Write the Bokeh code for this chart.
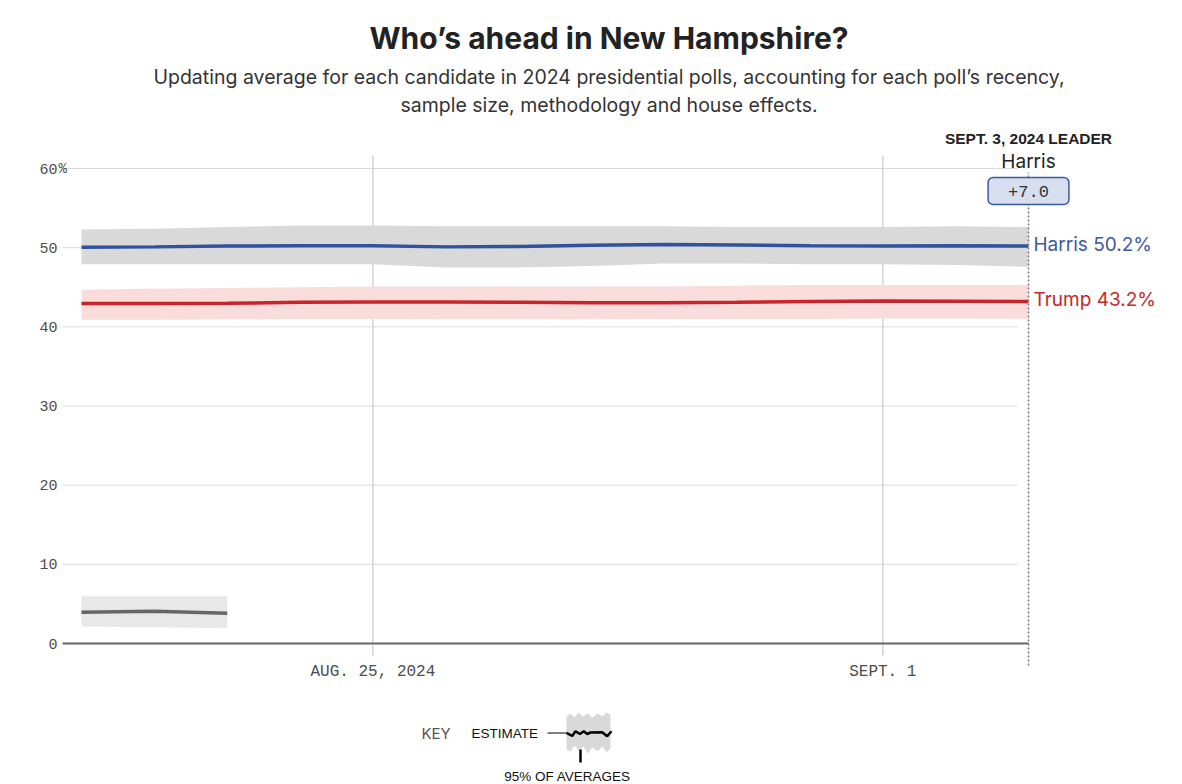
import datetime as dt
from bokeh.plotting import figure
from bokeh.models import FixedTicker, Label
from bokeh.embed import file_html
from bokeh.resources import INLINE

# ---------------- data ----------------
dates = [dt.datetime(2024, 8, 21) + dt.timedelta(days=i) for i in range(14)]
harris = [50.05, 50.1, 50.2, 50.25, 50.25, 50.1, 50.15, 50.3, 50.4, 50.35, 50.25, 50.2, 50.25, 50.2]
harris_hi = [52.3, 52.4, 52.6, 52.8, 52.8, 52.7, 52.7, 52.7, 52.7, 52.6, 52.6, 52.6, 52.7, 52.6]
harris_lo = [47.9, 47.9, 47.9, 47.9, 47.9, 47.5, 47.5, 47.7, 48.0, 48.0, 47.9, 47.9, 47.8, 47.6]
trump = [42.95, 42.95, 42.97, 43.1, 43.15, 43.15, 43.1, 43.05, 43.05, 43.1, 43.2, 43.25, 43.22, 43.2]
trump_hi = [44.7, 44.8, 44.9, 45.0, 45.1, 45.1, 45.1, 45.1, 45.1, 45.2, 45.3, 45.3, 45.3, 45.3]
trump_lo = [40.9, 40.9, 40.95, 41.0, 41.0, 40.95, 40.95, 40.95, 41.0, 41.0, 41.0, 41.05, 41.05, 41.0]
other_dates = dates[:3]
other = [3.95, 4.08, 3.83]
other_hi = [5.97, 5.97, 5.97]
other_lo = [2.15, 2.05, 1.93]

y_ticks = [0, 10, 20, 30, 40, 50, 60]
x_tick_dates = [dt.datetime(2024, 8, 25), dt.datetime(2024, 9, 1)]
x_tick_labels = ["AUG. 25, 2024", "SEPT. 1"]

title = "Who\u2019s ahead in New Hampshire?"
subtitle = ["Updating average for each candidate in 2024 presidential polls, accounting for each poll\u2019s recency,",
            "sample size, methodology and house effects."]
leader_date_label = "SEPT. 3, 2024 LEADER"
leader_name = "Harris"

# ---------------- layout helpers ----------------
EPOCH = dt.datetime(1970, 1, 1)
DAY = 86400000.0


def ms(d):
    return (d - EPOCH).total_seconds() * 1000.0


d0 = ms(dates[0])
PX_PER_DAY = (1028 - 81) / 13.0
PX_PER_UNIT = (643 - 168) / 60.0


def xd(px):  # canvas x pixel -> data x
    return d0 + (px - 81) / PX_PER_DAY * DAY


def yd(py):  # canvas y pixel -> data y
    return (643 - py) / PX_PER_UNIT


xs = [ms(d) for d in dates]
oxs = [ms(d) for d in other_dates]

W, H = 1182, 784
p = figure(width=W, height=H, x_axis_type="datetime",
           x_range=(xd(0), xd(W)), y_range=(yd(H), yd(0)),
           output_backend="svg", toolbar_location=None,
           min_border_left=0, min_border_right=0,
           min_border_top=0, min_border_bottom=0)
p.outline_line_color = None
p.background_fill_color = "white"
p.border_fill_color = "white"

MONO = "Liberation Mono"
SANS = "Inter"

# axes
p.xgrid.visible = False
p.ygrid.visible = False

p.yaxis.ticker = FixedTicker(ticks=y_ticks)
p.yaxis.fixed_location = xd(62)
p.yaxis.axis_line_color = None
p.yaxis.major_tick_line_color = None
p.yaxis.major_tick_out = 0
p.yaxis.major_tick_in = 0
p.yaxis.minor_tick_line_color = None
p.yaxis.major_label_text_font = MONO
p.yaxis.major_label_text_font_size = "15px"
p.yaxis.major_label_text_color = "#4d4d4d"
p.yaxis.major_label_standoff = 5

tick_ms = [ms(d) for d in x_tick_dates]
p.xaxis.ticker = FixedTicker(ticks=tick_ms)
p.xaxis.major_label_overrides = {t: l for t, l in zip(tick_ms, x_tick_labels)}
p.xaxis.fixed_location = 0
p.xaxis.axis_line_color = None
p.xaxis.major_tick_line_color = None
p.xaxis.major_tick_out = 0
p.xaxis.major_tick_in = 0
p.xaxis.minor_tick_line_color = None
p.xaxis.major_label_text_font = MONO
p.xaxis.major_label_text_font_size = "16px"
p.xaxis.major_label_text_color = "#4d4d4d"
p.xaxis.major_label_standoff = 19

# horizontal grid lines (at y ticks)
grid_y = [t for t in y_ticks if t > 0]
p.segment(x0=[xd(62)] * len(grid_y), x1=[xd(1017)] * len(grid_y), y0=grid_y, y1=grid_y,
          line_color="#d9d9d9", line_width=1)
# vertical grid lines (at tick dates)
p.segment(x0=tick_ms, x1=tick_ms, y0=[yd(655)] * 2, y1=[yd(155)] * 2,
          line_color="#d4d4d4", line_width=1.5)

# bands
p.varea(x=xs, y1=harris_lo, y2=harris_hi, fill_color="#d9d9d9")
p.varea(x=xs, y1=trump_lo, y2=trump_hi, fill_color="#f9dcdc")
p.varea(x=oxs, y1=other_lo, y2=other_hi, fill_color="#e8e8e8")

# estimate lines
p.line(xs, harris, line_color="#30529f", line_width=3.5)
p.line(xs, trump, line_color="#c8252b", line_width=3.5)
p.line(oxs, other, line_color="#666666", line_width=3.5)

# baseline (x axis line)
p.segment(x0=[xd(62)], x1=[xs[-1]], y0=[0], y1=[0], line_color="#666666", line_width=2)

# leader dotted line
p.segment(x0=[xs[-1]], x1=[xs[-1]], y0=[yd(665)], y1=[yd(172)],
          line_color="#777777", line_width=1.5, line_dash="2 2")

# "%" after 60
p.add_layout(Label(x=xd(62), y=60, x_offset=-4, text="%", text_font=MONO,
                   text_font_size="14px", text_color="#4d4d4d",
                   text_align="left", text_baseline="middle"))

# title / subtitle
p.add_layout(Label(x=xd(608.5), y=yd(37), text=title, text_font=SANS,
                   text_font_style="bold", text_font_size="30px",
                   text_color="#222222", text_align="center",
                   text_baseline="alphabetic"))
for i, line in enumerate(subtitle):
    p.add_layout(Label(x=xd(608.5), y=yd(76.5 + 28 * i), text=line, text_font=SANS,
                       text_font_size="19.5px", text_color="#333333",
                       text_align="center", text_baseline="alphabetic"))

# leader annotation
lead = harris[-1] - trump[-1]
p.add_layout(Label(x=xs[-1], y=yd(137.7), text=leader_date_label, text_font="Liberation Sans",
                   text_font_style="bold", text_font_size="15.5px", text_color="#222222",
                   text_align="center", text_baseline="alphabetic"))
p.add_layout(Label(x=xs[-1], y=yd(160.7), text=leader_name, text_font=SANS,
                   text_font_size="19px", text_color="#222222",
                   text_align="center", text_baseline="alphabetic"))
p.add_layout(Label(x=xs[-1], y=yd(190.5), text=f"+{lead:.1f}", text_font=MONO,
                   text_font_size="17px", text_color="#333333",
                   text_align="center", text_baseline="middle",
                   background_fill_color="#d6deef", border_line_color="#3a5aa0",
                   border_line_width=1.5, border_radius=5, padding=(20, 8)))

# end labels
p.add_layout(Label(x=xs[-1], y=harris[-1], x_offset=5, y_offset=2,
                   text=f"Harris {harris[-1]:.1f}%", text_font=SANS,
                   text_font_size="19px", text_color="#3d5a9e",
                   text_align="left", text_baseline="middle"))
p.add_layout(Label(x=xs[-1], y=trump[-1], x_offset=5, y_offset=2,
                   text=f"Trump {trump[-1]:.1f}%", text_font=SANS,
                   text_font_size="19px", text_color="#c4282c",
                   text_align="left", text_baseline="middle"))

# ---------------- key ----------------
key_top = [(566, 716), (570, 713), (574, 717), (578, 712), (583, 716), (587, 713),
           (592, 717), (597, 713), (602, 716), (606, 712), (610, 714)]
key_bot = [(610, 748), (606, 752), (602, 746), (597, 751), (592, 747), (587, 753),
           (583, 746), (578, 750), (574, 745), (570, 751), (566, 749)]
poly = key_top + key_bot
p.patch([xd(a) for a, b in poly], [yd(b) for a, b in poly], fill_color="#d9d9d9", line_color=None)
key_line = [(566, 732.3), (571.7, 735.5), (575, 730.7), (579.3, 733.5), (583.3, 730.7),
            (586.7, 733.5), (590, 732), (601.7, 731.7), (606.7, 735.7), (611, 730.7)]
p.line([xd(a) for a, b in key_line], [yd(b) for a, b in key_line], line_color="black", line_width=2.5)
p.line([xd(547), xd(566)], [yd(732.5), yd(732.5)], line_color="black", line_width=1)
p.line([xd(580), xd(580)], [yd(749), yd(762)], line_color="black", line_width=2.5)

p.add_layout(Label(x=xd(421), y=yd(733), text="KEY", text_font=SANS,
                   text_font_size="15px", text_color="#555555",
                   text_align="left", text_baseline="middle"))
p.add_layout(Label(x=xd(471), y=yd(733), text="ESTIMATE", text_font="Liberation Sans",
                   text_font_size="13.5px", text_color="#111111",
                   text_align="left", text_baseline="middle"))
p.add_layout(Label(x=xd(567), y=yd(776), text="95% OF AVERAGES", text_font="Liberation Sans",
                   text_font_size="13.5px", text_color="#111111",
                   text_align="center", text_baseline="middle"))

open("out.html", "w").write(file_html(p, INLINE))
